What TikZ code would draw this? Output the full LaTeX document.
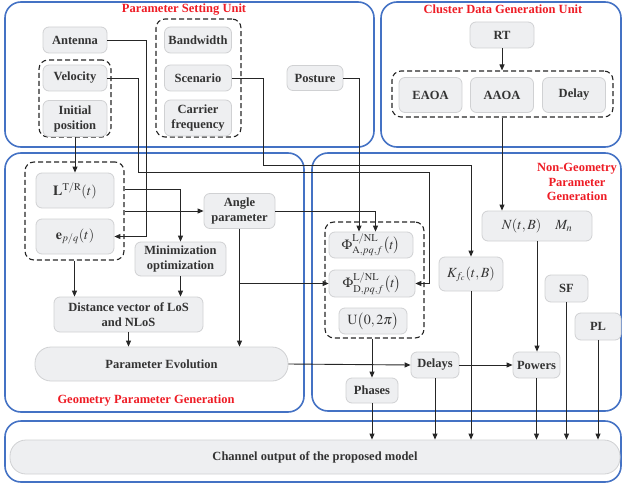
\documentclass[tikz,border=0pt]{standalone}
\usepackage{mathptmx}
\usepackage[no-math]{fontspec}
\setmainfont{Liberation Serif}
\usetikzlibrary{arrows.meta}
\definecolor{frameblue}{HTML}{4472C4}
\definecolor{boxfill}{HTML}{EEEFF1}
\definecolor{boxline}{HTML}{D0D1D3}
\definecolor{titlered}{HTML}{EE1C25}
\definecolor{txt}{HTML}{333333}
\tikzset{
  frame/.style={draw=frameblue, line width=1.6pt, rounded corners=16pt},
  box/.style={draw=boxline, fill=boxfill, rounded corners=6pt, line width=0.8pt, text=txt,
    font=\fontsize{12.5}{15}\selectfont\bfseries, align=center, inner sep=0pt},
  mbox/.style={box, font=\fontsize{14}{16}\selectfont},
  dbox/.style={draw=black!85, dash pattern=on 5pt off 3pt, line width=1.1pt, rounded corners=9pt, inner sep=0pt},
  title/.style={text=titlered, font=\fontsize{12.5}{14.5}\selectfont\bfseries, align=center},
  arr/.style={draw=black!85, line width=0.9pt, -{Triangle[length=6pt,width=5pt]}},
  ln/.style={draw=black!85, line width=0.9pt},
}
\begin{document}
\begin{tikzpicture}[x=1pt,y=-1pt]
\useasboundingbox (0,0) rectangle (623,484);
% frames
\draw[frame] (5,2) rectangle (374,147);
\draw[frame] (381,2) rectangle (621,147);
\draw[frame] (5,153) rectangle (304,412);
\draw[frame] (312,153) rectangle (621,411);
\draw[frame] (5,421) rectangle (621,482);
% titles
\node[title] (t1) at (184,10) {Parameter Setting Unit};
\node[title] (t2) at (503,9) {Cluster Data Generation Unit};
\node[title] (t3) at (577,182) {Non-Geometry\\Parameter\\Generation};
\node[title] (t4) at (146,401) {Geometry Parameter Generation};
% dashed groups
\node[dbox, minimum width=72, minimum height=77] (dv) at (75,98.5) {};
\node[dbox, minimum width=85, minimum height=118] (dbs) at (198.5,78) {};
\node[dbox, minimum width=221, minimum height=46] (dcl) at (502.5,94) {};
\node[dbox, minimum width=99, minimum height=98] (dL) at (74.5,211) {};
\node[dbox, minimum width=99, minimum height=116] (dphi) at (374.5,280) {};
% parameter setting unit
\node[box, minimum width=64, minimum height=26] (ant) at (75,40) {Antenna};
\node[box, minimum width=64, minimum height=26] (vel) at (75,78) {Velocity};
\node[box, minimum width=64, minimum height=36] (init) at (75,118.5) {Initial\\position};
\node[box, minimum width=67, minimum height=26] (bw) at (198,40) {Bandwidth};
\node[box, minimum width=67, minimum height=26] (scen) at (198,78) {Scenario};
\node[box, minimum width=67, minimum height=36] (cf) at (198,118) {Carrier\\frequency};
\node[box, minimum width=56, minimum height=25] (post) at (315,78) {Posture};
% cluster
\node[box, minimum width=64, minimum height=26] (rt) at (502,35) {RT};
\node[box, minimum width=63, minimum height=35] (eaoa) at (430.5,95) {EAOA};
\node[box, minimum width=63, minimum height=35] (aaoa) at (502,95) {AAOA};
\node[box, minimum width=63, minimum height=35] (delay) at (574,95) {Delay};
% geometry
\node[mbox, minimum width=78, minimum height=35] (L) at (75,190.5) {$\mathbf{L}^{\mathrm{T/R}}(t)$};
\node[mbox, minimum width=78, minimum height=35] (epq) at (75,236.5) {$\mathbf{e}_{p/q}(t)$};
\node[box, minimum width=71, minimum height=35] (ang) at (239.5,211) {Angle\\parameter};
\node[box, minimum width=91, minimum height=34] (minim) at (180.5,259) {Minimization\\optimization};
\node[box, minimum width=149, minimum height=35] (dist) at (128.5,314.5) {Distance vector of LoS\\and NLoS};
\node[box, minimum width=253, minimum height=34, rounded corners=16pt] (pe) at (161.5,364) {Parameter Evolution};
% non-geometry
\node[mbox, minimum width=110, minimum height=30] (ntb) at (537,226) {$N(t,B)\quad M_n$};
\node[mbox, minimum width=84, minimum height=26] (phia) at (371,245) {$\Phi^{\mathrm{L/NL}}_{\mathrm{A},pq,f}\big(t\big)$};
\node[mbox, minimum width=86, minimum height=27] (phid) at (372,283.5) {$\Phi^{\mathrm{L/NL}}_{\mathrm{D},pq,f}\big(t\big)$};
\node[mbox, minimum width=68, minimum height=26] (u) at (373,321) {$\mathrm{U}\big(0,2\pi\big)$};
\node[mbox, minimum width=64, minimum height=34] (kfc) at (471,274) {$K_{f_c}(t,B)$};
\node[box, minimum width=43, minimum height=27] (sf) at (566.5,288.5) {SF};
\node[box, minimum width=46, minimum height=27] (pl) at (598,326.5) {PL};
\node[box, minimum width=48, minimum height=26] (delays) at (435,365) {Delays};
\node[box, minimum width=47, minimum height=26] (powers) at (536.5,365) {Powers};
\node[box, minimum width=52, minimum height=25] (phases) at (372,390.5) {Phases};
% output
\node[box, minimum width=610, minimum height=34, rounded corners=16pt] (out) at (315,457) {Channel output of the proposed model};
% connectors
\draw[arr] (ant.east) -- ++(39,0) |- (epq.east);
\draw[arr] (vel.east) -- ++(31,0) -- ++(0,94) -| (429,283.5) -- (phid.east);
\draw[arr] (scen.east) -- ++(32,0) -- ++(0,87) -| (kfc.north);
\draw[arr] (post.east) -| ([xshift=-12]phia.north);
\draw[arr] (ang.east) -| ([xshift=4.5]phia.north);
\draw[arr] (ang.south) -- (ang.south |- pe.north);
\draw[arr] (ang.south |- phid.west) -- (phid.west);
\draw[arr] (init.south) -- (L.north);
\draw[arr] (dL.east |- 0,189) -| (minim.north);
\draw[arr] (dL.east |- ang.west) -- (ang.west);
\draw[arr] (dL.south) -- (dL.south |- dist.north);
\draw[arr] (minim.south) -- (minim.south |- dist.north);
\draw[arr] (dist.south) -- (dist.south |- pe.north);
\draw[arr] (pe.east) -- (delays.west);
\draw[arr] (delays.east) -- (powers.west);
\draw[arr] (phases.north |- dphi.south) -- (phases.north);
\draw[arr] (ntb.south) -- (ntb.south |- powers.north);
\draw[arr] (rt.south) -- (rt.south |- dcl.north);
\draw[arr] (aaoa.south |- dcl.south) -- (aaoa.south |- ntb.north);
\draw[arr] (phases.south) -- (phases.south |- out.north);
\draw[arr] (delays.south) -- (delays.south |- out.north);
\draw[arr] (kfc.south) -- (kfc.south |- out.north);
\draw[arr] (powers.south) -- (powers.south |- out.north);
\draw[arr] (sf.south) -- (sf.south |- out.north);
\draw[arr] (pl.south) -- (pl.south |- out.north);
\end{tikzpicture}
\end{document}
